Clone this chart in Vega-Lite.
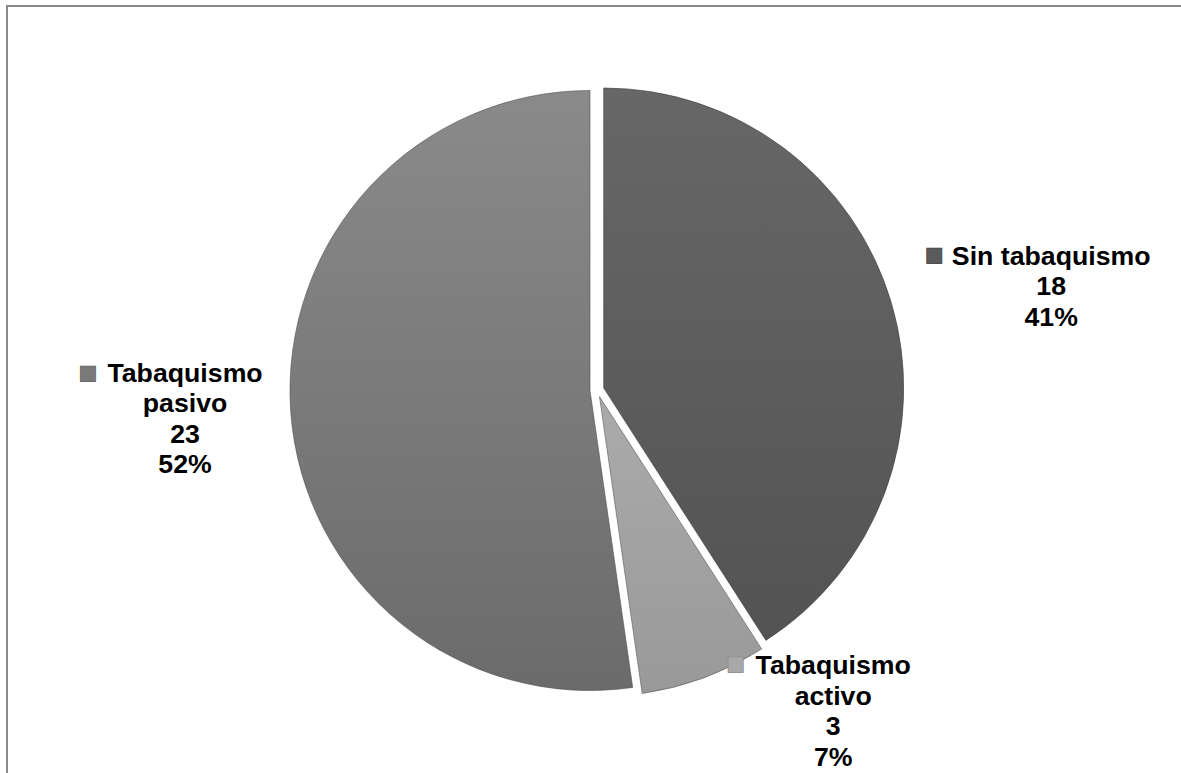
{
  "$schema": "https://vega.github.io/schema/vega-lite/v6.json",
  "width": 1180,
  "height": 768,
  "autosize": "none",
  "padding": {"left": 7, "top": 6, "right": 0, "bottom": 0},
  "background": "white",
  "view": {"stroke": "#8a8a8a", "strokeWidth": 2},
  "data": {
    "values": [
      {"categoria": "Sin tabaquismo", "rotulo": "Sin tabaquismo", "n": 18},
      {"categoria": "Tabaquismo activo", "rotulo": "Tabaquismo\nactivo", "n": 3},
      {"categoria": "Tabaquismo pasivo", "rotulo": "Tabaquismo\npasivo", "n": 23}
    ]
  },
  "transform": [
    {"joinaggregate": [{"op": "sum", "field": "n", "as": "total"}]},
    {"calculate": "datum.rotulo + '\\n' + datum.n + '\\n' + format(datum.n / datum.total, '.0%')", "as": "etiqueta"}
  ],
  "encoding": {
    "theta": {"field": "n", "type": "quantitative", "stack": true}
  },
  "layer": [
    {
      "mark": {
        "type": "arc", "outerRadius": 300, "xOffset": 6.7, "yOffset": -2,
        "stroke": "#404040", "strokeWidth": 1, "strokeOpacity": 0.6,
        "fill": {"gradient": "linear", "x1": 0, "y1": 0, "x2": 0, "y2": 1,
          "stops": [{"offset": 0, "color": "#676767"}, {"offset": 1, "color": "#535353"}]}
      },
      "encoding": {"opacity": {"condition": {"test": "datum.categoria === 'Sin tabaquismo'", "value": 1}, "value": 0}}
    },
    {
      "mark": {
        "type": "arc", "outerRadius": 300, "xOffset": 2.5, "yOffset": 6.6,
        "stroke": "#5a5a5a", "strokeWidth": 1, "strokeOpacity": 0.6,
        "fill": {"gradient": "linear", "x1": 0, "y1": 0, "x2": 0, "y2": 1,
          "stops": [{"offset": 0, "color": "#ababab"}, {"offset": 1, "color": "#999999"}]}
      },
      "encoding": {"opacity": {"condition": {"test": "datum.categoria === 'Tabaquismo activo'", "value": 1}, "value": 0}}
    },
    {
      "mark": {
        "type": "arc", "outerRadius": 300, "xOffset": -7, "yOffset": 0.5,
        "stroke": "#505050", "strokeWidth": 1, "strokeOpacity": 0.6,
        "fill": {"gradient": "linear", "x1": 0, "y1": 0, "x2": 0, "y2": 1,
          "stops": [{"offset": 0, "color": "#8a8a8a"}, {"offset": 1, "color": "#6b6b6b"}]}
      },
      "encoding": {"opacity": {"condition": {"test": "datum.categoria === 'Tabaquismo pasivo'", "value": 1}, "value": 0}}
    },
    {
      "mark": {"type": "text", "radius": 464, "dx": 9, "dy": -2.5, "font": "Liberation Sans", "fontWeight": "bold", "fontSize": 26.7, "lineHeight": 30.5, "lineBreak": "\n", "align": "center", "baseline": "middle", "color": "#000000"},
      "encoding": {
        "text": {"field": "etiqueta"},
        "opacity": {"condition": {"test": "datum.categoria === 'Sin tabaquismo'", "value": 1}, "value": 0}
      }
    },
    {
      "mark": {"type": "text", "radius": 384, "dx": 102, "dy": -83.75, "font": "Liberation Sans", "fontWeight": "bold", "fontSize": 26.7, "lineHeight": 30.5, "lineBreak": "\n", "align": "center", "baseline": "middle", "color": "#000000"},
      "encoding": {
        "text": {"field": "etiqueta"},
        "opacity": {"condition": {"test": "datum.categoria === 'Tabaquismo activo'", "value": 1}, "value": 0}
      }
    },
    {
      "mark": {"type": "text", "radius": 413, "dx": 0, "dy": -45.75, "font": "Liberation Sans", "fontWeight": "bold", "fontSize": 26.7, "lineHeight": 30.5, "lineBreak": "\n", "align": "center", "baseline": "middle", "color": "#000000"},
      "encoding": {
        "text": {"field": "etiqueta"},
        "opacity": {"condition": {"test": "datum.categoria === 'Tabaquismo pasivo'", "value": 1}, "value": 0}
      }
    },
    {
      "mark": {"type": "text", "radius": 464, "dx": -108, "dy": -4, "font": "DejaVu Sans", "fontSize": 20, "align": "center", "baseline": "middle", "color": "#5a5a5a", "stroke": "#3a3a3a", "strokeWidth": 0.6},
      "encoding": {
        "text": {"value": "■"},
        "opacity": {"condition": {"test": "datum.categoria === 'Sin tabaquismo'", "value": 1}, "value": 0}
      }
    },
    {
      "mark": {"type": "text", "radius": 384, "dx": 4.5, "dy": -86, "font": "DejaVu Sans", "fontSize": 20, "align": "center", "baseline": "middle", "color": "#a8a8a8", "stroke": "#888888", "strokeWidth": 0.6},
      "encoding": {
        "text": {"value": "■"},
        "opacity": {"condition": {"test": "datum.categoria === 'Tabaquismo activo'", "value": 1}, "value": 0}
      }
    },
    {
      "mark": {"type": "text", "radius": 413, "dx": -97, "dy": -46, "font": "DejaVu Sans", "fontSize": 20, "align": "center", "baseline": "middle", "color": "#7a7a7a", "stroke": "#555555", "strokeWidth": 0.6},
      "encoding": {
        "text": {"value": "■"},
        "opacity": {"condition": {"test": "datum.categoria === 'Tabaquismo pasivo'", "value": 1}, "value": 0}
      }
    }
  ]
}
